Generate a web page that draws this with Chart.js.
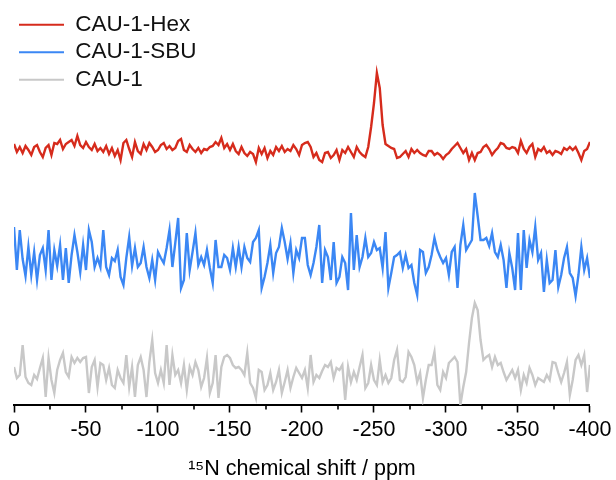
<!DOCTYPE html>
<html>
<head>
<meta charset="utf-8">
<script src="https://cdn.jsdelivr.net/npm/chart.js@4/dist/chart.umd.min.js"></script>
<style>
html, body { margin: 0; padding: 0; background: #ffffff; }
#wrap { width: 616px; height: 480px; }
</style>
</head>
<body>
<div id="wrap"><canvas id="c" width="616" height="480"></canvas></div>
<script>
// ---- data ----
const seriesNames = ['CAU-1-Hex', 'CAU-1-SBU', 'CAU-1'];
const seriesColors = ['#d62b1c', '#3b87f4', '#c8c8c8'];
// vertical offset of each stacked trace (baseline height, intensity units)
const stackOffsets = [257, 147, 30];
// chemical shift sampling grid, ppm (0 ... -400, every 2 ppm)
const shiftPpm = [];
for (let i = 0; i <= 200; i++) shiftPpm.push(-2 * i);
const tickLabelsPpm = [0, -50, -100, -150, -200, -250, -300, -350, -400];

const hexIntensity = [
  4, -4, 1, -5, 2, -2, -7, 1, 3, -4,
  -9, 0, 3, -7, 5, 4, 8, -1, 4, 6,
  8, 2, 12, 3, 0, 6, 1, -2, 4, -3,
  0, -4, 2, -6, 0, -8, -2, -12, 5, 8,
  -1, -9, 6, -3, -6, 4, -2, 5, 1, -4,
  -2, 3, 5, -1, 2, -2, 0, 7, 9, -2,
  -4, 3, -1, -4, 0, -5, -1, -2, 1, 2,
  6, 3, 10, 0, 4, -2, 4, -3, -6, 1,
  -5, -8, -4, -6, -14, 0, -6, 0, -10, -3,
  -7, 1, -3, 2, -4, -1, -3, 3, -1, -7,
  3, 5, 6, 1, -9, -5, -12, -14, -5, -4,
  -10, -7, -2, -12, -2, -5, 1, -4, -9, 1,
  -4, -7, -9, 1, 21, 45, 75, 60, 23, 4,
  2, 0, -1, -10, -9, -6, -3, -9, -1, -5,
  -2, -5, -7, -8, -3, -3, -7, -5, -7, -11,
  -7, -5, -1, 2, 5, 0, -5, -1, -12, -5,
  -12, -5, -4, 1, 3, -1, -7, -3, 0, 5,
  4, 0, -1, 1, 0, -5, 7, -1, -5, 1,
  4, -9, -1, -3, 1, -5, -3, -7, -3, -4,
  -6, 0, -2, 1, -2, 1, -5, -12, -3, -1,
  6
];

const sbuIntensity = [
  31, -12, 28, -1, -18, 11, -17, 6, -22, 3,
  10, -12, 28, -22, 8, -8, 13, -22, 10, -25,
  3, 23, 6, -14, 13, -12, 28, 16, -9, 0,
  -9, 28, -9, -17, 0, -3, 8, -19, -27, 0,
  21, -8, 10, -9, -5, 11, -9, -20, -2, -22,
  6, 0, -5, 10, 28, -9, 15, 40, -30, -22,
  25, -12, 6, 25, -7, 1, -7, 8, -10, -25,
  18, -9, -9, 3, 0, -12, 10, -9, 11, -9,
  11, 0, -4, 16, 20, 28, -30, -19, -5, 13,
  -15, 5, 11, 30, 16, -1, 15, -15, 8, 0,
  20, 20, -7, -17, -5, 11, 33, -25, 8, 1,
  -22, 16, -25, -19, 1, -5, -32, 45, -12, 23,
  -9, 1, 20, 1, 5, 16, 8, 10, -10, 26,
  -30, -15, 1, 3, 6, -10, 3, -10, -7, -25,
  -37, 8, 6, -15, -9, 3, 20, 8, 1, -5,
  0, -17, 6, 11, -30, 13, 33, 8, 13, 18,
  65, 42, 18, 18, 20, 12, 25, 6, 1, 13,
  -2, -30, 5, -10, -32, 25, -32, 28, -10, 18,
  6, 31, -2, 5, -34, -2, -25, -22, 8, -29,
  -17, 0, 11, -15, -20, -38, -17, 11, -12, 0,
  -20
];

const cau1Intensity = [
  8, -3, 0, 30, -2, -8, -10, 0, -4, 7,
  17, -22, 17, -5, -18, 5, 15, 22, 3, -2,
  18, 12, 17, 13, 17, 18, -18, 8, 15, -12,
  12, 10, -5, 7, -10, -13, 5, -3, -8, 20,
  -12, 8, -22, 10, 18, 5, -22, 13, 35, 2,
  -8, 5, -8, 30, -10, 20, 0, 5, -8, 10,
  -15, 8, 0, 13, 5, -12, -3, 17, -18, -8,
  20, -23, 8, 18, 20, 17, 10, 7, 8, 5,
  0, 22, -8, -13, -23, 5, 3, -15, -10, 2,
  -15, -7, 5, -18, -7, 5, -13, -2, 7, 2,
  -3, 5, -13, 20, -7, 0, -3, 4, 10, 8,
  13, -3, 7, 5, 10, -25, 8, -7, 3, -5,
  8, 20, -13, -8, 10, -5, -10, 15, -7, 0,
  -8, -3, 15, 25, -5, -7, -2, 23, 18, 10,
  -7, 2, -23, -5, 10, 10, 23, -10, -15, 3,
  -3, 12, 15, 18, 13, -30, -12, 3, 32, 57,
  72, 65, 35, 15, 18, 20, 8, 18, 10, 12,
  3, -5, 0, 5, -3, 5, -15, 0, -8, 7,
  0, -10, -3, -5, -7, 0, -5, 13, 12, 2,
  -7, 2, 13, -20, -5, 15, 20, 10, 20, -17,
  10
];

const seriesValues = [hexIntensity, sbuIntensity, cau1Intensity];

// ---- chart ----
const FONT = '"Liberation Sans", Arial, Helvetica, sans-serif';

const datasets = seriesNames.map((name, k) => ({
  label: name,
  data: shiftPpm.map((x, i) => ({ x: x, y: seriesValues[k][i] + stackOffsets[k] })),
  borderColor: seriesColors[k],
  backgroundColor: seriesColors[k],
  borderWidth: 2.4,
  pointRadius: 0,
  tension: 0,
  fill: false
}));

const minorTicks = {
  id: 'minorTicks',
  afterDraw(chart) {
    const s = chart.scales.x;
    const ctx = chart.ctx;
    ctx.save();
    ctx.strokeStyle = '#000';
    ctx.lineWidth = 1.6;
    s.ticks.forEach(t => {
      if (t.value % 50 !== 0) {
        const px = s.getPixelForValue(t.value);
        ctx.beginPath();
        ctx.moveTo(px, s.top);
        ctx.lineTo(px, s.top + 4.5);
        ctx.stroke();
      }
    });
    ctx.restore();
  }
};

new Chart(document.getElementById('c'), {
  type: 'line',
  data: { datasets },
  options: {
    responsive: false,
    animation: false,
    devicePixelRatio: 1,
    layout: { padding: { left: 14, right: 25, top: 8, bottom: 0 } },
    scales: {
      x: {
        type: 'linear',
        min: -400,
        max: 0,
        reverse: true,
        afterFit(scale) { scale.height = 75; },
        border: { display: true, color: '#000', width: 2 },
        grid: {
          display: true,
          drawOnChartArea: false,
          drawTicks: true,
          tickLength: 7.5,
          tickWidth: 1.6,
          tickColor: (ctx) => (ctx.tick && ctx.tick.value % 50 === 0) ? '#000' : 'rgba(0,0,0,0)'
        },
        ticks: {
          stepSize: 25,
          autoSkip: false,
          maxRotation: 0,
          padding: 4.5,
          color: '#000',
          font: { family: FONT, size: 21.5 },
          callback: (v) => tickLabelsPpm.includes(v) ? String(v) : ''
        },
        title: {
          display: true,
          text: '\u00B9\u2075N chemical shift / ppm',
          color: '#000',
          font: { family: FONT, size: 21.5, lineHeight: 1 },
          padding: { top: 0, bottom: 0 }
        }
      },
      y: {
        display: false,
        min: 0,
        max: 397
      }
    },
    plugins: {
      legend: {
        position: 'chartArea',
        align: 'start',
        title: {
          display: true,
          text: '',
          font: { family: FONT, size: 8.5, lineHeight: 1 },
          padding: 0
        },
        labels: {
          boxWidth: 45,
          boxHeight: 2,
          padding: 5,
          color: '#111',
          font: { family: FONT, size: 22.5 },
          generateLabels(chart) {
            const items = Chart.defaults.plugins.legend.labels.generateLabels(chart);
            items.forEach(it => { it.lineWidth = 0; });
            return items;
          }
        }
      },
      tooltip: { enabled: false }
    }
  },
  plugins: [minorTicks]
});
</script>
</body>
</html>
